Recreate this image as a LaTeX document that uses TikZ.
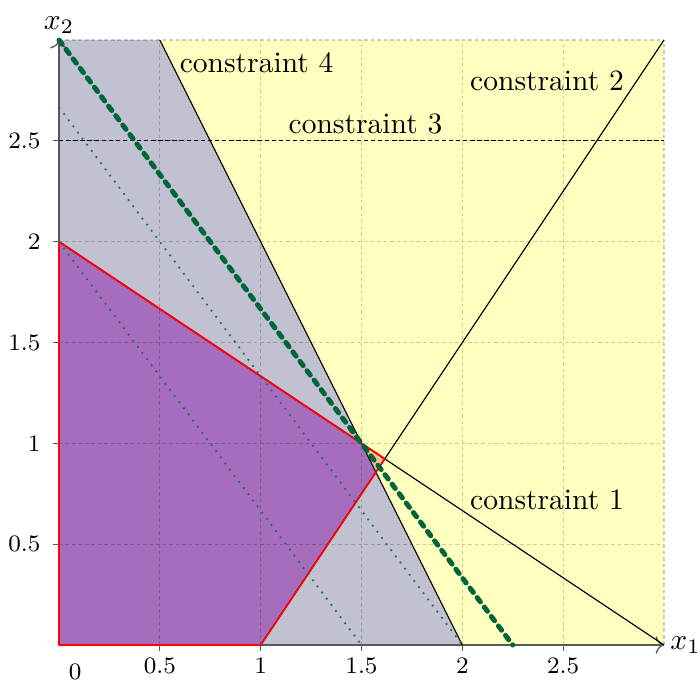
\documentclass[tikz,border=0pt]{standalone}
\usepackage{tikz}
\usetikzlibrary{arrows.meta}
\definecolor{bgfill}{HTML}{FFFFC0}
\definecolor{halffill}{HTML}{C1C1D1}
\definecolor{feasfill}{HTML}{A66CBE}
\definecolor{cutfill}{HTML}{F8BE98}
\definecolor{objgreen}{HTML}{00663A}
\definecolor{levelteal}{HTML}{1F6F5F}
\tikzset{
  lpgrid/.style={draw=black,opacity=0.2,dash pattern=on 1.2pt off 1pt,line width=0.4pt},
  lpaxis/.style={-{To[length=1mm]},draw=black!65,line width=0.45pt},
  lpconstraint/.style={draw=black,line width=0.4pt},
  lpbound/.style={draw=red,line width=0.6pt,line join=round},
  lpobjective/.style={draw=objgreen,line width=1.7pt,line cap=round,dash pattern=on 1.8pt off 2.2pt},
  lplevel/.style={draw=levelteal,dotted,line width=0.6pt},
  lplabel/.style={inner sep=1pt},
  lptick/.style={font=\footnotesize,inner sep=1pt}
}

\begin{document}
\begin{tikzpicture}[x=2.4cm,y=2.4cm]
  \useasboundingbox (-0.2925,-0.1735) rectangle (3.1785,3.1985);
  % corner points
  \coordinate (o) at (0,0);
  \coordinate (xend) at (3,0);
  \coordinate (yend) at (0,3);
  \coordinate (top) at (3,3);
  \coordinate (c1a) at (0,2);
  \coordinate (c2a) at (1,0);
  \coordinate (c4a) at (0.5,3);
  \coordinate (c4b) at (2,0);
  \coordinate (c3a) at (0,2.5);
  \coordinate (c3b) at (3,2.5);
  \coordinate (opt) at (1.5,1);
  \coordinate (corner) at (1.6154,0.9231);
  \coordinate (cut) at (1.5714,0.8571);
  \coordinate (obja) at (0,3);
  \coordinate (objb) at (2.25,0);
  \coordinate (lva) at (0,2.6667);
  \coordinate (lvb) at (1.5,0);

  % regions
  \fill[bgfill] (o) rectangle (top);
  \fill[halffill] (o) -- (c4b) -- (c4a) -- (yend) -- cycle;
  \fill[feasfill] (o) -- (c2a) -- (cut) -- (opt) -- (c1a) -- cycle;
  \fill[cutfill] (opt) -- (corner) -- (cut) -- cycle;
  \draw[lpgrid] (o) grid[step=0.5] (top);

  % axes
  \draw[lpaxis] (o) -- (xend);
  \draw[lpaxis] (o) -- (yend);

  % constraints
  \draw[lpconstraint] (c1a) -- (xend);
  \draw[lpconstraint] (c2a) -- (top);
  \draw[lpconstraint,dash pattern=on 1.5pt off 0.9pt] (c3a) -- (c3b);
  \draw[lpconstraint] (c4a) -- (c4b);
  \draw[lpbound] (o) -- (c2a) -- (corner) -- (c1a) -- cycle;

  % level lines
  \draw[lplevel] (lva) -- (c4b);
  \draw[lplevel] (c1a) -- (lvb);
  \draw[lpobjective] (obja) -- (objb);

  \node[anchor=west,inner sep=2pt] (xlab) at (xend) {$x_1$};
  \node[anchor=south,inner sep=2pt] (ylab) at (yend) {$x_2$};
  \foreach \v/\t in {0.5/a,1/b,1.5/c,2/d,2.5/e} {
    \draw[black!65] (\v,-0.03) -- (\v,0);
    \draw[black!65] (-0.03,\v) -- (0,\v);
    \node[lptick] (xt\t) at (\v,-0.104) {\v};
    \node[lptick,anchor=east] (yt\t) at (-0.075,\v) {\v};
  }
  \node[lptick] (zero) at (0.08,-0.135) {0};

  % labels
  \node[lplabel] (lab1) at (2.42,0.72) {constraint 1};
  \node[lplabel] (lab2) at (2.42,2.80) {constraint 2};
  \node[lplabel] (lab3) at (1.52,2.585) {constraint 3};
  \node[lplabel] (lab4) at (0.98,2.89) {constraint 4};
\end{tikzpicture}
\end{document}
